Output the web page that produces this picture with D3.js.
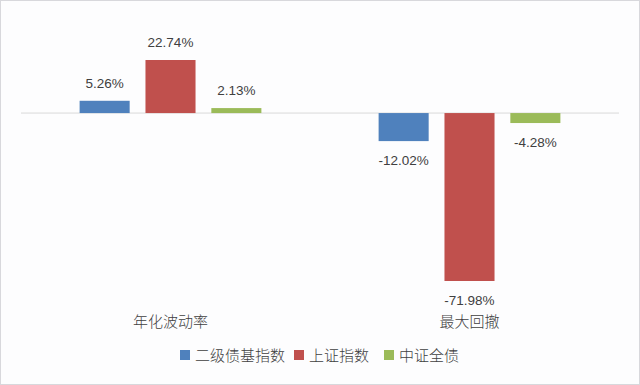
<!DOCTYPE html>
<html>
<head>
<meta charset="utf-8">
<script src="https://cdn.jsdelivr.net/npm/d3@7"></script>
<style>
  body { margin: 0; background: #fff; }
  svg { display: block; }
</style>
</head>
<body>
<svg id="chart" width="640" height="385"></svg>
<script>
// data
const categories = ['年化波动率', '最大回撤'];
const seriesNames = ['二级债基指数', '上证指数', '中证全债'];
const seriesColors = ['#4F81BD', '#C0504D', '#9BBB59'];
const values = [
  [5.26, 22.74, 2.13],
  [-12.02, -71.98, -4.28]
];

const width = 640, height = 385;
const svg = d3.select('#chart');
const labelFont = '"Liberation Sans", Arial, sans-serif';
const cjkFont = '"Noto Sans CJK SC", sans-serif';

// frame
svg.append('rect')
  .attr('x', 0.5).attr('y', 0.5)
  .attr('width', width - 1).attr('height', height - 1)
  .attr('fill', '#fdfdfe')
  .attr('stroke', '#d8d8dc');

const x0 = d3.scaleBand().domain(categories).range([21, 619]);
const x1 = d3.scaleBand().domain(seriesNames)
  .range([0, x0.bandwidth()])
  .paddingInner(0.24).paddingOuter(0.89);

const y = d3.scaleLinear().domain([-71.98, 22.74]).range([281, 60]);

// zero line
svg.append('line')
  .attr('x1', 21).attr('x2', 619)
  .attr('y1', y(0)).attr('y2', y(0))
  .attr('stroke', '#d9d9d9').attr('stroke-width', 1);

const groups = svg.selectAll('g.cat')
  .data(categories)
  .enter().append('g')
  .attr('class', 'cat')
  .attr('transform', d => `translate(${x0(d)},0)`);

groups.selectAll('rect')
  .data((d, i) => values[i].map((v, j) => ({ v, s: seriesNames[j], c: seriesColors[j] })))
  .enter().append('rect')
  .attr('x', d => x1(d.s))
  .attr('width', x1.bandwidth())
  .attr('y', d => y(Math.max(0, d.v)))
  .attr('height', d => Math.abs(y(d.v) - y(0)))
  .attr('fill', d => d.c);

groups.selectAll('text.val')
  .data((d, i) => values[i].map((v, j) => ({ v, s: seriesNames[j] })))
  .enter().append('text')
  .attr('class', 'val')
  .attr('x', d => x1(d.s) + x1.bandwidth() / 2)
  .attr('y', d => d.v >= 0 ? y(d.v) - 13 : y(d.v) + 24)
  .attr('text-anchor', 'middle')
  .attr('font-family', labelFont)
  .attr('font-size', 13.5)
  .attr('fill', '#404040')
  .text(d => d.v.toFixed(2) + '%');

// category labels
groups.append('text')
  .attr('x', x0.bandwidth() / 2)
  .attr('y', 327)
  .attr('text-anchor', 'middle')
  .attr('font-family', cjkFont)
  .attr('font-weight', 300)
  .attr('font-size', 15)
  .attr('fill', '#404040')
  .text(d => d);

// legend
const legendX = [180, 294, 384];
const legend = svg.selectAll('g.leg')
  .data(seriesNames)
  .enter().append('g')
  .attr('class', 'leg')
  .attr('transform', (d, i) => `translate(${legendX[i]},355)`);

legend.append('rect')
  .attr('x', 0).attr('y', -5)
  .attr('width', 10).attr('height', 10)
  .attr('fill', (d, i) => seriesColors[i]);

legend.append('text')
  .attr('x', 15).attr('y', 5.5)
  .attr('font-family', cjkFont)
  .attr('font-weight', 300)
  .attr('font-size', 15)
  .attr('fill', '#404040')
  .text(d => d);
</script>
</body>
</html>
